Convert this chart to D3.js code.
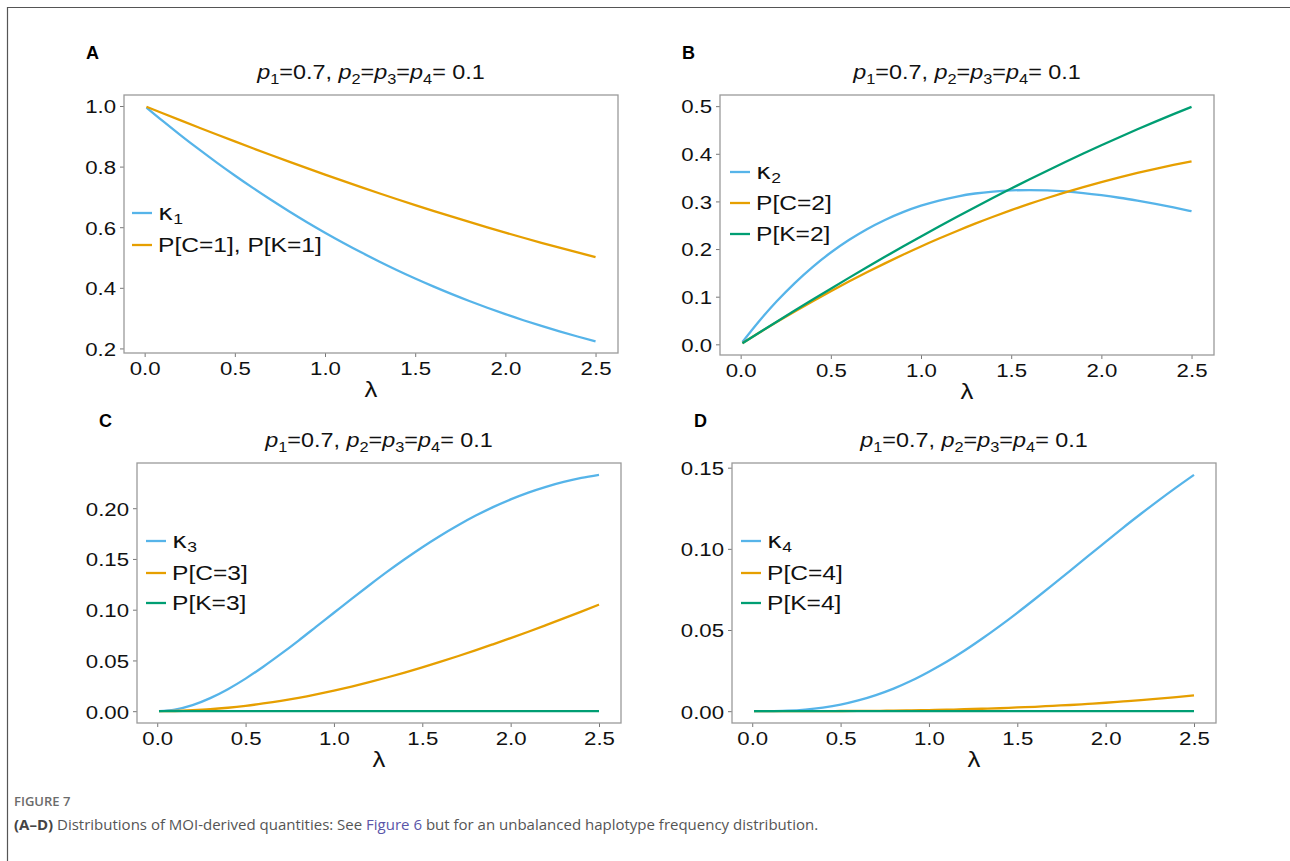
<!DOCTYPE html>
<html>
<head>
<meta charset="utf-8">
<script src="https://cdn.jsdelivr.net/npm/d3@7"></script>
<style>
  body { margin: 0; background: #fff; }
  text { font-family: "Liberation Sans", Arial, Helvetica, sans-serif; }
  .caption { font-family: "Open Sans", "Noto Sans", sans-serif; }
</style>
</head>
<body>
<svg id="fig" width="1290" height="861"></svg>
<script>
// lambda grid (x values)
const lambda = [0.01, 0.1, 0.2, 0.3, 0.4, 0.5, 0.6, 0.7, 0.8, 0.9, 1.0, 1.1, 1.2,
  1.3, 1.4, 1.5, 1.6, 1.7, 1.8, 1.9, 2.0, 2.1, 2.2, 2.3, 2.4, 2.5];

// panel A
const kappa1 = [0.9950, 0.9508, 0.9033, 0.8575, 0.8133, 0.7708, 0.7298, 0.6905, 0.6528, 0.6166, 0.5820,
  0.5489, 0.5172, 0.4870, 0.4582, 0.4308, 0.4048, 0.3800, 0.3565, 0.3342, 0.3130, 0.2930, 0.2741, 0.2563, 0.2394, 0.2236];
const pC1 = [0.9976, 0.9761, 0.9525, 0.9291, 0.9059, 0.8831, 0.8605, 0.8383, 0.8164, 0.7948, 0.7736,
  0.7527, 0.7322, 0.7121, 0.6923, 0.6730, 0.6540, 0.6355, 0.6173, 0.5995, 0.5822, 0.5652, 0.5486, 0.5325, 0.5167, 0.5014];

// panel B
const kappa2 = [0.0050, 0.0475, 0.0903, 0.1286, 0.1627, 0.1927, 0.2189, 0.2417, 0.2611, 0.2775, 0.2910,
  0.3019, 0.3103, 0.3166, 0.3207, 0.3231, 0.3238, 0.3230, 0.3209, 0.3175, 0.3130, 0.3077, 0.3015, 0.2947, 0.2873, 0.2795];
const pC2 = [0.0024, 0.0237, 0.0467, 0.0690, 0.0906, 0.1115, 0.1317, 0.1512, 0.1700, 0.1881, 0.2055,
  0.2221, 0.2380, 0.2533, 0.2678, 0.2816, 0.2948, 0.3072, 0.3190, 0.3301, 0.3406, 0.3505, 0.3597, 0.3684, 0.3765, 0.3839];
const pK2 = [0.0024, 0.0239, 0.0475, 0.0709, 0.0941, 0.1169, 0.1395, 0.1617, 0.1836, 0.2052, 0.2264,
  0.2473, 0.2678, 0.2879, 0.3077, 0.3270, 0.3460, 0.3645, 0.3827, 0.4005, 0.4178, 0.4348, 0.4514, 0.4675, 0.4833, 0.4986];

// panel C
const kappa3 = [0.0000, 0.0016, 0.0060, 0.0129, 0.0217, 0.0321, 0.0438, 0.0564, 0.0696, 0.0833, 0.0970,
  0.1107, 0.1241, 0.1372, 0.1497, 0.1616, 0.1727, 0.1830, 0.1925, 0.2011, 0.2087, 0.2154, 0.2211, 0.2259, 0.2298, 0.2329];
const pC3 = [0.0000, 0.0002, 0.0009, 0.0019, 0.0034, 0.0053, 0.0076, 0.0102, 0.0132, 0.0166, 0.0203,
  0.0243, 0.0286, 0.0332, 0.0380, 0.0431, 0.0485, 0.0541, 0.0599, 0.0659, 0.0720, 0.0783, 0.0848, 0.0914, 0.0981, 0.1050];
const pK3 = [0, 0, 0, 0, 0, 0, 0, 0, 0, 0, 0, 0, 0, 0, 0, 0, 0, 0, 0, 0, 0, 0, 0, 0, 0, 0];

// panel D
const kappa4 = [0.0000, 0.0000, 0.0003, 0.0010, 0.0022, 0.0040, 0.0066, 0.0099, 0.0139, 0.0187, 0.0243,
  0.0304, 0.0372, 0.0446, 0.0524, 0.0606, 0.0691, 0.0778, 0.0866, 0.0955, 0.1043, 0.1131, 0.1216, 0.1299, 0.1379, 0.1456];
const pC4 = [0, 0, 0, 0, 0, 0.0001, 0.0002, 0.0002, 0.0004, 0.0005, 0.0007,
  0.0009, 0.0012, 0.0015, 0.0018, 0.0023, 0.0027, 0.0033, 0.0038, 0.0045, 0.0052, 0.0060, 0.0068, 0.0077, 0.0087, 0.0097];
const pK4 = [0, 0, 0, 0, 0, 0, 0, 0, 0, 0, 0, 0, 0, 0, 0, 0, 0, 0, 0, 0, 0, 0, 0, 0, 0, 0];

const xTicks = [0, 0.5, 1.0, 1.5, 2.0, 2.5];
const yTicksA = [0.2, 0.4, 0.6, 0.8, 1.0];
const yTicksB = [0.0, 0.1, 0.2, 0.3, 0.4, 0.5];
const yTicksC = [0.00, 0.05, 0.10, 0.15, 0.20];
const yTicksD = [0.00, 0.05, 0.10, 0.15];

const blue = '#56B4E9', orange = '#E69F00', green = '#009E73';
const SX = 1.17; // the figure is a bit wider than tall

const panels = [
  { tag: 'A', box: [124, 95, 618, 353], ticks: yTicksA, fmt: '.1f', legX: 132, legY: [213, 245],
    series: [{ k: 1, values: kappa1, color: blue }, { name: 'P[C=1], P[K=1]', values: pC1, color: orange }] },
  { tag: 'B', box: [720, 95, 1214, 355], ticks: yTicksB, fmt: '.1f', legX: 730, legY: [172, 203, 234],
    series: [{ k: 2, values: kappa2, color: blue }, { name: 'P[C=2]', values: pC2, color: orange },
      { name: 'P[K=2]', values: pK2, color: green }] },
  { tag: 'C', box: [137, 463, 621, 723], ticks: yTicksC, fmt: '.2f', legX: 146, legY: [541, 573, 603],
    series: [{ k: 3, values: kappa3, color: blue }, { name: 'P[C=3]', values: pC3, color: orange },
      { name: 'P[K=3]', values: pK3, color: green }] },
  { tag: 'D', box: [732, 463, 1216, 723], ticks: yTicksD, fmt: '.2f', legX: 741, legY: [541, 573, 603],
    series: [{ k: 4, values: kappa4, color: blue }, { name: 'P[C=4]', values: pC4, color: orange },
      { name: 'P[K=4]', values: pK4, color: green }] }
];

const svg = d3.select('#fig');

// outer frame of the figure (only top and left edges are visible)
svg.append('path')
  .attr('d', 'M7.5,870 V7.5 H1300')
  .attr('fill', 'none')
  .attr('stroke', '#555')
  .attr('stroke-width', 1.2);

function expand(ext) {
  const pad = (ext[1] - ext[0]) * 0.05;
  return [ext[0] - pad, ext[1] + pad];
}

panels.forEach(p => {
  const [x0, y0, x1, y1] = p.box;
  const allY = p.series.flatMap(s => s.values);
  const x = d3.scaleLinear().domain(expand(d3.extent(lambda))).range([x0, x1]);
  const y = d3.scaleLinear().domain(expand(d3.extent(allY))).range([y1, y0]);
  const g = svg.append('g');

  // panel tag
  g.append('text')
    .attr('x', x0 - 38)
    .attr('y', y0 - 36)
    .attr('font-size', 18)
    .attr('font-weight', 'bold')
    .text(p.tag);

  // title: p1=0.7, p2=p3=p4= 0.1
  const cx = (x0 + x1) / 2;
  const title = g.append('text')
    .attr('transform', `translate(${cx},${y0 - 16}) scale(${SX},1)`)
    .attr('text-anchor', 'middle')
    .attr('font-size', 20)
    .attr('fill', '#111');
  const parts = [['1', '=0.7, '], ['2', '='], ['3', '='], ['4', '= 0.1']];
  parts.forEach(([n, rest], i) => {
    title.append('tspan').attr('font-style', 'italic').attr('dy', i ? -5 : 0).text('p');
    title.append('tspan').attr('font-size', 14).attr('dy', 5).text(n);
    title.append('tspan').attr('dy', 0).text(rest);
  });
  // last run back on baseline
  title.selectAll('tspan').filter((d, i, n) => i % 3 === 2).attr('dy', -5);
  title.selectAll('tspan').filter((d, i, n) => i % 3 === 0 && i > 0).attr('dy', 0);

  // axes
  const yAxis = d3.axisLeft(y).tickValues(p.ticks).tickFormat(d3.format(p.fmt))
    .tickSize(4).tickPadding(4);
  const xAxis = d3.axisBottom(x).tickValues(xTicks).tickFormat(d3.format('.1f'))
    .tickSize(4).tickPadding(5);

  const ya = g.append('g').attr('transform', `translate(${x0},0)`).call(yAxis);
  const xa = g.append('g').attr('transform', `translate(0,${y1})`).call(xAxis);
  [ya, xa].forEach(a => {
    a.select('.domain').remove();
    a.selectAll('.tick line').attr('stroke', '#777');
    a.selectAll('.tick text')
      .attr('font-size', 19)
      .attr('font-family', '"Liberation Sans", Arial, sans-serif')
      .attr('fill', '#111');
  });
  ya.selectAll('.tick text').attr('transform', `scale(${SX},1)`).attr('x', -8 / SX).attr('dy', '0.36em');
  xa.selectAll('.tick text').attr('transform', `scale(${SX},1)`);

  // x label
  g.append('text')
    .attr('transform', `translate(${cx},${y1 + 44}) scale(${SX},1)`)
    .attr('text-anchor', 'middle')
    .attr('font-size', 22)
    .attr('fill', '#111')
    .text('λ');

  // lines
  const line = d3.line()
    .x((d, i) => x(lambda[i]))
    .y(d => y(d))
    .curve(d3.curveMonotoneX);
  p.series.forEach(s => {
    g.append('path')
      .datum(s.values)
      .attr('d', line)
      .attr('fill', 'none')
      .attr('stroke', s.color)
      .attr('stroke-width', 2.3);
  });

  // panel border
  g.append('rect')
    .attr('x', x0).attr('y', y0)
    .attr('width', x1 - x0).attr('height', y1 - y0)
    .attr('fill', 'none')
    .attr('stroke', '#9a9a9a')
    .attr('stroke-width', 1.3);

  // legend
  p.series.forEach((s, i) => {
    const ly = p.legY[i];
    g.append('line')
      .attr('x1', p.legX).attr('x2', p.legX + 20)
      .attr('y1', ly).attr('y2', ly)
      .attr('stroke', s.color)
      .attr('stroke-width', 2.3);
    const t = g.append('text')
      .attr('transform', `translate(${p.legX + 26},${ly + 7}) scale(${SX},1)`)
      .attr('font-size', 21)
      .attr('fill', '#111');
    if (s.k) {
      t.append('tspan').attr('font-family', '"DejaVu Sans", sans-serif').attr('font-size', 22).text('κ');
      t.append('tspan').attr('font-size', 15).attr('dy', 4).text(s.k);
    } else {
      t.text(s.name);
    }
  });
});

// caption
const cap = svg.append('g');
cap.append('text')
  .attr('class', 'caption')
  .attr('x', 14).attr('y', 806)
  .attr('font-size', 13)
  .attr('font-weight', 600)
  .attr('fill', '#6b6b6b')
  .text('FIGURE 7');
const line2 = cap.append('text')
  .attr('class', 'caption')
  .attr('x', 14).attr('y', 830)
  .attr('font-size', 15)
  .attr('fill', '#555');
line2.append('tspan').attr('font-weight', 'bold').attr('fill', '#444').text('(A–D)');
line2.append('tspan').text(' Distributions of MOI-derived quantities: See ');
line2.append('tspan').attr('fill', '#5a55a8').text('Figure 6');
line2.append('tspan').text(' but for an unbalanced haplotype frequency distribution.');
</script>
</body>
</html>
